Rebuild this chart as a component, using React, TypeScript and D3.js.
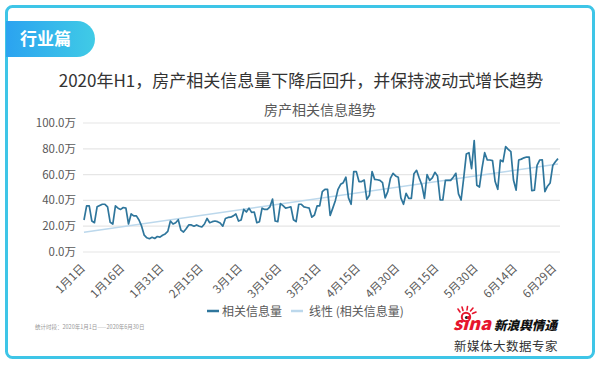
import * as d3 from 'd3'

// 相关信息量 (万), daily 2020-01-01 .. 2020-06-30
const infoVolume = [
  24.8, 35.7, 35.7, 24, 22.7, 35, 36, 37, 37, 35,
  23, 21.7, 35.7, 34, 33, 34.5, 34, 21.7, 29.5, 28,
  28, 24.8, 20, 13, 11, 10.3, 11.4, 10.5, 12, 11.5,
  13, 14, 16, 24, 21.7, 22.7, 25, 17, 15.5, 18,
  21, 21, 20, 21, 20, 19.4, 21.7, 26, 22.7, 23.5,
  24, 23.5, 22.5, 20, 26, 26.8, 27, 28, 29.5, 24,
  24.8, 33, 31, 34, 30.7, 31, 22.7, 23.5, 34, 33,
  33, 35, 41, 24, 23.5, 37.5, 36, 34, 34.5, 35,
  25, 23.5, 37, 37, 35, 34.5, 34, 27, 28.7, 35.7,
  35.7, 46.8, 48.6, 48.6, 28.4, 34, 40, 48.6, 52.5, 53.7,
  58, 42, 37, 62.3, 62.3, 54.6, 54.6, 55.8, 40.8, 44,
  62.3, 56.3, 56, 55.5, 53.7, 42, 46.8, 57, 61, 59,
  58, 42, 37, 45.5, 41.6, 41.6, 60.7, 63.3, 57.4, 52,
  41.6, 60, 55.5, 57.4, 61.8, 59, 40.3, 40.3, 55.5, 55.5,
  55.5, 58, 61, 45, 40.3, 57.4, 76, 77, 64.6, 86.3,
  51.7, 50.4, 65, 77, 71.3, 71.3, 70.8, 54.6, 48.6, 71.3,
  70, 81.7, 79.6, 77.8, 55.8, 48, 71.3, 72, 73, 73.6,
  73.6, 47.5, 48, 67.2, 71.3, 71.5, 46.8, 51, 53.5, 67,
  70, 72.4,
]

const xTickLabels = [
  '1月1日', '1月16日', '1月31日', '2月15日', '3月1日', '3月16日', '3月31日',
  '4月15日', '4月30日', '5月15日', '5月30日', '6月14日', '6月29日',
]
const xTickStep = 15
const yTicks = [0, 20, 40, 60, 80, 100]

const FONT = '"Noto Sans CJK SC", "Noto Sans", sans-serif'
const LINE_COLOR = '#2f769c'
const TREND_COLOR = '#bcd8ec'

export default function App() {
  const width = 600
  const height = 365
  const margin = { left: 84, right: 42, top: 123, bottom: 113 }

  const x = d3.scaleLinear()
    .domain([0, infoVolume.length - 1])
    .range([margin.left, width - margin.right])
  const y = d3.scaleLinear()
    .domain([0, 100])
    .range([height - margin.bottom, margin.top])

  const pts = infoVolume.map((v, i) => [i, v] as [number, number])
  const line = d3.line<[number, number]>()
    .x((d) => x(d[0]))
    .y((d) => y(d[1]))

  // linear trendline (least squares)
  const n = pts.length
  const mx = d3.mean(pts, (d) => d[0])!
  const my = d3.mean(pts, (d) => d[1])!
  const slope = d3.sum(pts, (d) => (d[0] - mx) * (d[1] - my)) / d3.sum(pts, (d) => (d[0] - mx) ** 2)
  const icpt = my - slope * mx
  const trend: [number, number][] = [[0, icpt], [n - 1, icpt + slope * (n - 1)]]

  const x0 = 83
  const x1 = 560

  return (
    <svg width={width} height={height} style={{ position: 'absolute', left: 0, top: 0, background: '#fff' }} fontFamily={FONT}>
      <defs>
        <linearGradient id="tabGrad" x1="0" x2="1" y1="0" y2="0">
          <stop offset="0%" stopColor="#2ba3f0" />
          <stop offset="100%" stopColor="#40cbe6" />
        </linearGradient>
      </defs>

      {/* frame */}
      <rect x={6.5} y={6.5} width={587} height={351} rx={6} fill="#fff" stroke="#3ec5e7" strokeWidth={3} />

      {/* tab */}
      <path d="M6,21 H77 A18,18 0 0 1 77,57 H6 Z" fill="url(#tabGrad)" />
      <text x={20} y={45} fontSize={17} fontWeight="bold" fill="#fff">行业篇</text>

      {/* title */}
      <text x={301} y={87} fontSize={17} fill="#333" textAnchor="middle">2020年H1，房产相关信息量下降后回升，并保持波动式增长趋势</text>
      <text x={320} y={115} fontSize={14} fill="#595959" textAnchor="middle">房产相关信息趋势</text>

      {/* grid + y labels */}
      {yTicks.map((t) => (
        <g key={t}>
          <line x1={x0} x2={x1} y1={y(t)} y2={y(t)} stroke="#e6e6e6" strokeWidth={1.2} />
          <text x={76} y={y(t) + 4} fontSize={11.5} fill="#595959" textAnchor="end">{t.toFixed(1)}万</text>
        </g>
      ))}

      {/* x labels */}
      {xTickLabels.map((lab, i) => {
        const tx = x(i * xTickStep) - 1
        const ty = y(0) + 14
        return (
          <text key={lab} transform={`translate(${tx},${ty}) rotate(-45)`} fontSize={11.5} fill="#595959" textAnchor="end" dy="0.35em">{lab}</text>
        )
      })}

      {/* trendline */}
      <path d={line(trend)!} fill="none" stroke={TREND_COLOR} strokeWidth={1.5} />
      {/* series */}
      <path d={line(pts)!} fill="none" stroke={LINE_COLOR} strokeWidth={1.7} strokeLinejoin="round" />

      {/* legend */}
      <line x1={207} x2={219} y1={311} y2={311} stroke={LINE_COLOR} strokeWidth={2.5} />
      <text x={222} y={315.5} fontSize={12} fill="#595959">相关信息量</text>
      <line x1={291} x2={303} y1={311} y2={311} stroke={TREND_COLOR} strokeWidth={2.5} />
      <text x={309} y={315.5} fontSize={12} fill="#595959">线性 (相关信息量)</text>

      {/* footer */}
      <text x={35} y={329} fontSize={5.5} fill="#999">统计时段：2020年1月1日——2020年6月30日</text>

      {/* sina logo */}
      <g>
        <circle cx={466} cy={317} r={4.2} fill="none" stroke="#e6162d" strokeWidth={2} />
        <circle cx={466.5} cy={317.5} r={1.6} fill="#222" />
        <path d="M460,312 L458,309 M463,310.5 L462,307 M467,310 L467.5,306.5 M470.5,311 L473,308 M472.5,313.5 L476,312" stroke="#e6162d" strokeWidth={1.6} strokeLinecap="round" />
        <text x={453} y={330} fontSize={17} fontWeight={900} fontStyle="italic" fill="#e6162d" textLength={38} lengthAdjust="spacingAndGlyphs">sina</text>
        <text x={494} y={329.5} fontSize={12.5} fontWeight={900} fontStyle="italic" fill="#111" textLength={63} lengthAdjust="spacingAndGlyphs">新浪舆情通</text>
      </g>
      <text x={454} y={351} fontSize={12.5} fill="#333" letterSpacing={0.5}>新媒体大数据专家</text>
    </svg>
  )
}
